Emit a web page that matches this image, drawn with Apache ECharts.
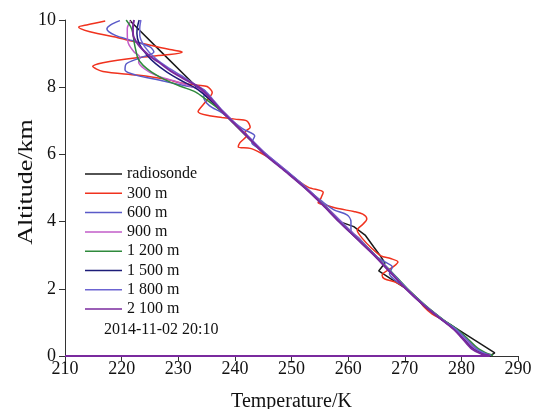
<!DOCTYPE html>
<html>
<head>
<meta charset="utf-8">
<script src="https://cdn.jsdelivr.net/npm/echarts@6/dist/echarts.min.js"></script>
<style>
  html, body { margin: 0; padding: 0; background: #ffffff; }
  #chart { width: 533px; height: 409px; }
</style>
</head>
<body>
<div id="chart"></div>
<script>
// Temperature profiles: [temperature K, altitude km]
const seriesNames = ['radiosonde', '300 m', '600 m', '900 m', '1 200 m', '1 500 m', '1 800 m', '2 100 m'];
const seriesColors = ['#1a1a1a', '#f0321e', '#5a5ac8', '#c25cc8', '#2f8a3c', '#1c1c78', '#6c64d2', '#7a2a9e'];
const timeStamp = '2014-11-02 20:10';
const xTitle = 'Temperature/K';
const yTitle = 'Altitude/km';
const xTicks = { min: 210, max: 290, step: 10 };
const yTicks = { min: 0, max: 10, step: 2 };

const radiosonde = [
  [221.5, 10.0], [221.7, 9.94], [227.3, 9.0], [233.3, 8.0], [237.4, 7.32], [239.3, 7.0],
  [242.3, 6.5], [245.3, 6.0], [249.0, 5.5], [252.5, 5.0], [255.6, 4.5], [258.5, 4.0],
  [261.0, 3.85], [263.0, 3.6], [264.5, 3.25], [265.6, 3.0], [266.5, 2.77], [265.4, 2.53],
  [267.9, 2.26], [270.3, 2.0], [273.5, 1.5], [276.8, 1.07], [285.9, 0.09], [285.0, 0.0]
];
const res300 = [
  [217.1, 9.97], [214.0, 9.86], [212.4, 9.79], [214.4, 9.65], [219.7, 9.46], [224.5, 9.27],
  [228.5, 9.12], [230.7, 9.05], [228.5, 8.97], [222.7, 8.88], [216.7, 8.73], [214.9, 8.62],
  [216.7, 8.47], [222.7, 8.36], [227.7, 8.24], [230.7, 8.12], [233.5, 8.06], [235.1, 8.02],
  [236.0, 7.84], [234.5, 7.5], [233.5, 7.27], [235.5, 7.15], [237.7, 7.1], [240.0, 7.05],
  [242.1, 7.0], [242.7, 6.8], [241.8, 6.67], [242.1, 6.57], [240.9, 6.35], [240.6, 6.22],
  [242.7, 6.18], [244.5, 6.05], [246.5, 5.85], [249.0, 5.5], [251.0, 5.24], [253.0, 5.02],
  [255.6, 4.87], [255.2, 4.7], [254.7, 4.56], [256.5, 4.47], [258.5, 4.38], [261.0, 4.3],
  [262.6, 4.22], [263.3, 4.08], [262.6, 3.92], [261.6, 3.75], [262.5, 3.5], [264.2, 3.2],
  [265.8, 2.98], [267.5, 2.9], [268.8, 2.8], [268.0, 2.66], [266.0, 2.4], [266.4, 2.3],
  [268.6, 2.18], [270.3, 2.0], [272.0, 1.75], [273.3, 1.48], [274.8, 1.25], [276.8, 1.07],
  [279.0, 0.8], [281.0, 0.5], [282.8, 0.2], [284.5, 0.06], [285.3, 0.02]
];
const res600 = [
  [219.7, 9.98], [218.0, 9.85], [217.4, 9.73], [218.8, 9.55], [222.0, 9.38], [225.0, 9.2],
  [225.7, 9.05], [223.2, 8.87], [220.8, 8.69], [220.6, 8.51], [222.5, 8.36], [226.8, 8.21],
  [231.0, 8.05], [233.5, 7.97], [234.8, 7.88], [234.5, 7.7], [235.5, 7.45], [237.6, 7.25],
  [239.5, 7.0], [241.5, 6.75], [243.5, 6.55], [243.0, 6.35], [244.0, 6.2], [245.5, 6.0],
  [249.0, 5.5], [252.5, 5.0], [255.4, 4.6], [257.5, 4.35], [259.8, 4.2], [260.5, 4.0],
  [260.5, 3.75], [262.0, 3.5], [264.7, 3.0], [266.5, 2.8], [267.8, 2.65], [267.3, 2.45],
  [268.0, 2.3], [270.3, 2.0], [273.5, 1.5], [276.5, 1.1], [279.0, 0.8], [280.8, 0.5],
  [282.5, 0.22], [284.5, 0.06], [285.3, 0.02]
];
const res900 = [
  [221.6, 9.97], [221.0, 9.75], [221.0, 9.6], [221.2, 9.3], [222.2, 9.05], [223.2, 8.9],
  [223.0, 8.75], [224.0, 8.55], [226.0, 8.36], [229.0, 8.2], [231.5, 8.07], [234.0, 7.9],
  [236.0, 7.6], [237.8, 7.3], [239.6, 7.0], [242.5, 6.5], [245.6, 6.0], [249.2, 5.5],
  [252.6, 5.0], [255.8, 4.5], [258.8, 4.0], [261.8, 3.5], [264.8, 3.0], [267.6, 2.5],
  [270.4, 2.0], [273.6, 1.5], [276.7, 1.07], [278.8, 0.8], [280.6, 0.5], [282.3, 0.22],
  [284.2, 0.06], [285.0, 0.02]
];
const res1200 = [
  [220.8, 10.0], [221.6, 9.8], [222.0, 9.6], [222.2, 9.35], [222.5, 9.1], [222.9, 8.85],
  [223.8, 8.65], [225.3, 8.45], [227.7, 8.22], [230.5, 8.02], [233.0, 7.86], [235.2, 7.6],
  [237.4, 7.32], [239.4, 7.0], [242.4, 6.5], [245.4, 6.0], [249.1, 5.5], [252.6, 5.0],
  [255.7, 4.5], [258.6, 4.0], [261.7, 3.5], [264.8, 3.0], [267.7, 2.5], [270.5, 2.0],
  [273.7, 1.5], [276.9, 1.07], [279.2, 0.8], [281.2, 0.5], [283.0, 0.22], [284.8, 0.06],
  [285.6, 0.02]
];
const res1500 = [
  [223.1, 10.0], [222.8, 9.8], [222.7, 9.6], [223.1, 9.3], [224.5, 8.95], [226.0, 8.7],
  [228.0, 8.45], [230.5, 8.2], [233.0, 7.98], [235.5, 7.65], [237.6, 7.32], [239.5, 7.0],
  [242.4, 6.5], [245.4, 6.0], [249.0, 5.5], [252.4, 5.0], [255.5, 4.5], [258.4, 4.0],
  [261.5, 3.5], [264.6, 3.0], [267.4, 2.5], [270.2, 2.0], [273.4, 1.5], [276.6, 1.07],
  [278.7, 0.8], [280.4, 0.5], [282.0, 0.22], [283.8, 0.06], [284.8, 0.02]
];
const res1800 = [
  [223.4, 10.0], [223.2, 9.75], [223.2, 9.55], [224.1, 9.2], [226.0, 8.85], [228.5, 8.55],
  [230.5, 8.35], [232.8, 8.1], [234.7, 7.9], [236.3, 7.6], [237.7, 7.32], [239.6, 7.0],
  [242.6, 6.5], [245.6, 6.0], [249.2, 5.5], [252.7, 5.0], [255.7, 4.5], [258.7, 4.0],
  [261.7, 3.5], [264.8, 3.0], [267.6, 2.5], [270.4, 2.0], [273.6, 1.5], [276.8, 1.07],
  [279.0, 0.8], [280.9, 0.5], [282.6, 0.22], [284.4, 0.06], [285.2, 0.02]
];
const res2100 = [
  [222.2, 10.0], [222.0, 9.8], [222.0, 9.6], [223.0, 9.25], [225.0, 8.92], [226.5, 8.75],
  [228.5, 8.5], [231.0, 8.25], [233.8, 7.98], [235.8, 7.65], [237.5, 7.32], [239.4, 7.0],
  [242.4, 6.5], [245.3, 6.0], [248.9, 5.5], [252.4, 5.0], [255.5, 4.5], [258.4, 4.0],
  [261.5, 3.5], [264.6, 3.0], [267.4, 2.5], [270.2, 2.0], [273.4, 1.5], [276.6, 1.07],
  [278.6, 0.8], [280.3, 0.5], [281.8, 0.22], [283.6, 0.06], [284.8, 0.02], [285.0, 0.0],
  [210.0, 0.0]
];

const seriesData = [radiosonde, res300, res600, res900, res1200, res1500, res1800, res2100];

const serif = 'Liberation Serif';
const chart = echarts.init(document.getElementById('chart'), null, { renderer: 'canvas' });

const option = {
  animation: false,
  backgroundColor: '#ffffff',
  grid: { left: 65, right: 15, top: 20, bottom: 53, containLabel: false, outerBoundsMode: 'none' },
  xAxis: {
    type: 'value', min: xTicks.min, max: xTicks.max, interval: xTicks.step,
    name: xTitle, nameLocation: 'middle', nameGap: 36,
    nameTextStyle: { fontFamily: serif, fontSize: 20, color: '#111' },
    axisLine: { lineStyle: { color: '#333', width: 1 } },
    axisTick: { inside: false, length: 5, lineStyle: { color: '#333' } },
    axisLabel: { fontFamily: serif, fontSize: 18, color: '#111', margin: 4 },
    splitLine: { show: false }
  },
  yAxis: {
    type: 'value', min: yTicks.min, max: yTicks.max, interval: yTicks.step,
    axisLine: { show: true, lineStyle: { color: '#333', width: 1 } },
    axisTick: { show: true, inside: false, length: 6, lineStyle: { color: '#333' } },
    axisLabel: { fontFamily: serif, fontSize: 18, color: '#111', margin: 9 },
    splitLine: { show: false }
  },
  legend: {
    orient: 'vertical', left: 85, top: 166, padding: 0,
    icon: 'rect', itemWidth: 37, itemHeight: 1.5, itemGap: 3.3,
    textStyle: { fontFamily: serif, fontSize: 16, color: '#111', lineHeight: 16 },
    data: seriesNames
  },
  graphic: [
    {
      type: 'text', left: 104, top: 322,
      style: { text: timeStamp, font: '16px "Liberation Serif"', fill: '#111' }
    },
    {
      // vertical axis title, drawn tall along its baseline
      type: 'text', x: 27, y: 182, rotation: Math.PI / 2, scaleX: 1.3,
      style: { text: yTitle, font: '20px "Liberation Serif"', fill: '#111', align: 'center', verticalAlign: 'middle' }
    }
  ],
  series: seriesNames.map((name, i) => ({
    name: name,
    type: 'line',
    data: seriesData[i],
    showSymbol: false,
    symbol: 'none',
    smooth: i === 0 ? false : 0.3,
    clip: true,
    color: seriesColors[i],
    lineStyle: { width: i === 7 ? 2 : 1.5, color: seriesColors[i] },
    z: 2 + i
  }))
};
chart.setOption(option);
</script>
</body>
</html>
